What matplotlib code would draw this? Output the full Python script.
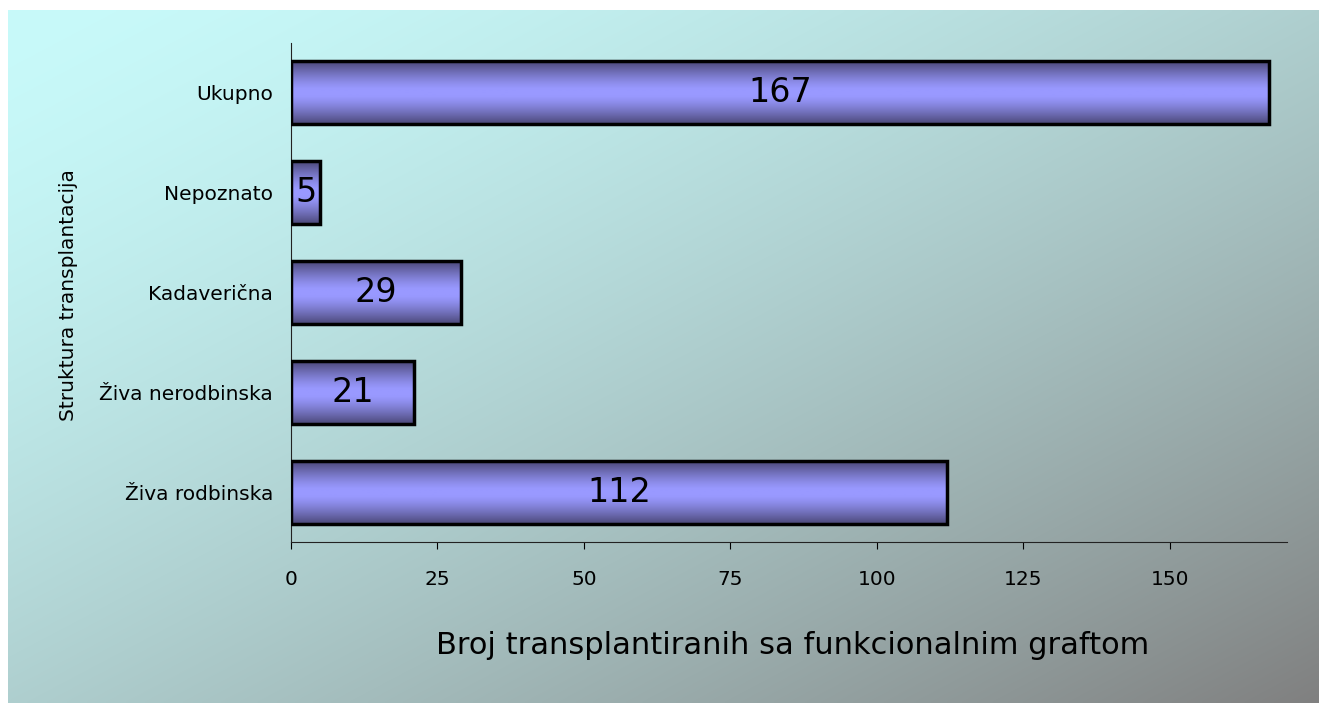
import numpy as np
import matplotlib
matplotlib.use("Agg")
import matplotlib.pyplot as plt

# data
categories = ["Živa rodbinska", "Živa nerodbinska", "Kadaverična", "Nepoznato", "Ukupno"]
values = [112, 21, 29, 5, 167]
xticks = [0, 25, 50, 75, 100, 125, 150]

W, H = 1319, 703
fig = plt.figure(figsize=(W / 100, H / 100), dpi=100)
fig.patch.set_facecolor("white")

# background gradient (light cyan top-left -> gray bottom-right)
bg = fig.add_axes([0, 0, 1, 1])
bg.set_xlim(0, W)
bg.set_ylim(H, 0)
bg.axis("off")
gx, gy = np.meshgrid(np.linspace(0, 1, 400), np.linspace(0, 1, 220))
t = ((gx + gy) / 2) ** 1.5
c0 = np.array([200, 250, 250]) / 255
c1 = np.array([128, 128, 128]) / 255
grad = c0 + (c1 - c0) * t[..., None]
bg.imshow(grad, extent=[8, W, H, 10], aspect="auto", interpolation="bilinear")

ax = fig.add_axes([291 / W, 1 - 542 / H, (1287 - 291) / W, (542 - 43) / H])
ax.set_facecolor("none")

# bar gradient: dark edges, light center
s = np.linspace(0, 1, 100)
f = np.abs(s - 0.5) * 2
f = np.clip((f - 0.1) / 0.9, 0, 1) ** 1.3
light = np.array([153, 153, 255]) / 255
dark = np.array([75, 72, 120]) / 255
bar_grad = (light + (dark - light) * f[:, None])[:, None, :]

h = 0.63
for i, v in enumerate(values):
    ax.imshow(bar_grad, extent=[0, v, i - h / 2, i + h / 2], aspect="auto",
              interpolation="bilinear", zorder=2)
    ax.text(v / 2, i, str(v), ha="center", va="center", fontsize=24, zorder=4)
ax.barh(range(len(values)), values, height=h, facecolor="none",
        edgecolor="black", linewidth=2.5, zorder=3)

ax.set_xlim(0, 170)
ax.set_ylim(-0.5, len(values) - 0.5)
ax.set_xticks(xticks)
ax.set_yticks(range(len(categories)))
ax.set_yticklabels(categories, fontsize=14.5)
ax.tick_params(axis="x", labelsize=14.5, length=5, pad=15, width=0.8)
ax.tick_params(axis="y", length=0, pad=13)
for sp in ["top", "right"]:
    ax.spines[sp].set_visible(False)
for sp in ["left", "bottom"]:
    ax.spines[sp].set_linewidth(0.8)
    ax.spines[sp].set_color("#222222")

fig.text(793 / W, 1 - 654 / H, "Broj transplantiranih sa funkcionalnim graftom",
         fontsize=22, ha="center", va="baseline")
fig.text(69 / W, 1 - 295 / H, "Struktura transplantacija", fontsize=14.5,
         rotation=90, ha="center", va="center")

fig.savefig("out.png", dpi=100)
